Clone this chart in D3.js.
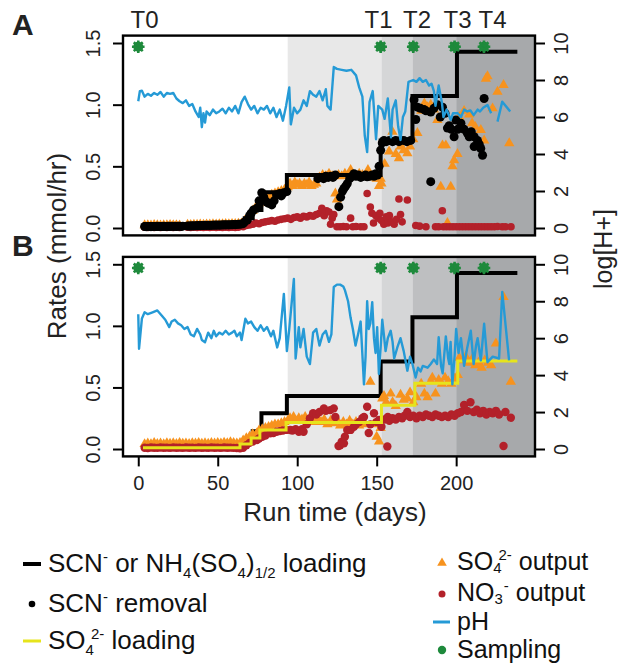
<!DOCTYPE html>
<html>
<head>
<meta charset="utf-8">
<script src="https://cdn.jsdelivr.net/npm/d3@7"></script>
<style>
  body { margin: 0; background: #fff; }
  text { font-family: "Liberation Sans", Arial, Helvetica, sans-serif; }
</style>
</head>
<body>
<div id="chart"></div>
<script>
// ---- data (day, value) ----
// loading steps, shared by both panels (mmol/hr)
var loadDays = [3, 51, 67, 72, 77.5, 93.5, 152.5, 172.5, 200.5, 238.5];
var loadVals = [0.03, 0.04, 0.08, 0.145, 0.29, 0.43, 0.71, 1.07, 1.43, 1.43];

// SO4 2- loading (panel B)
var so4LoadDays = [3, 64, 71, 76.5, 93, 153, 174, 201, 238.5];
var so4LoadVals = [0.01, 0.04, 0.09, 0.155, 0.215, 0.355, 0.535, 0.715, 0.715];

// sampling times
var samplingDays = [0, 152.5, 173, 199, 217.5];
var samplingLabels = ["T0", "T1", "T2", "T3", "T4"];
var samplingLevel = 1.47;

// treatment phases (shaded)
var phaseStart = [94, 153, 172.5, 200];
var phaseEnd = [153, 172.5, 200, 249.6];

var xTicks = [0, 50, 100, 150, 200];
var rateTicks = [0, 0.5, 1.0, 1.5];
var phTicks = [0, 2, 4, 6, 8, 10];

// Panel A
var scnRemovalA = [
  [4,.012],[5,.011],[6,.013],[7,.012],[8,.011],[9,.013],[10,.012],[11,.012],[12,.014],[13,.012],[14,.013],[15,.012],
  [16,.014],[17,.013],[18,.012],[19,.014],[20,.013],[21,.015],[22,.013],[23,.014],[24,.013],[25,.015],[26,.014],[27,.013],[28,.015],
  [31,.016],[32,.017],[33,.016],[34,.018],[35,.017],[36,.019],[37,.018],[38,.02],[39,.019],[40,.021],[41,.02],[42,.022],
  [43,.021],[44,.022],[45,.021],[46,.023],[47,.022],[48,.024],[49,.023],[50,.024],[51,.023],[52,.025],[53,.024],[54,.026],
  [55,.025],[56,.026],[57,.025],[58,.027],[59,.026],[60,.028],[61,.027],[62,.029],[63,.03],[64,.031],[65,.033],
  [66,.035],[67,.05],[68.6,.065],[70,.1],[71,.12],[72.5,.146],[74.6,.16],[76,.22],[77.7,.286],[79,.25],[80.8,.21],[82,.2],
  [84,.187],[85.5,.22],[87,.27],[89,.28],[90,.26],[91.5,.285],[93.5,.295],
  [113,.4],[115,.41],[116.6,.40],[118,.42],[119.5,.41],[121,.42],[122.5,.41],[124,.43],[126.2,.173],[127.3,.25],[128.5,.3],
  [129.4,.32],[130.5,.34],[131.5,.36],[133,.4],[134.5,.42],[135.7,.44],[137,.42],[138.5,.43],[140,.41],[141.5,.42],[143,.43],
  [144,.415],[145.5,.42],[147,.43],[148.3,.42],[149.4,.44],[150.5,.43],[151.5,.5],[152.5,.63],[153.5,.69],[154.6,.71],[156,.7],
  [158,.71],[160,.7],[162,.71],[164,.7],[165,.71],[167,.71],[169,.7],[171.4,.71],[173.5,1.04],[174.6,.88],[175.6,.98],
  [177.5,.97],[179.8,.96],[181,.95],[184,.94],[184,.376],[186,.97],[188.2,1.0],[190,.9],[191.4,.98],[193,.93],[194.5,.81],
  [195.6,.83],[197,.8],[198.7,.74],[199.8,.876],[201,.8],[203,.85],[205,.8],[207,.77],[208.2,.74],[209.5,.78],[211.3,.74],
  [211.3,.66],[213.4,.71],[214.5,.68],[215.5,.645],[216.6,.59],[217.6,1.05]
];
var so4OutA = [
  [4,.022],[6,.023],[8,.021],[10,.024],[12,.022],[14,.021],[16,.023],[18,.022],[20,.024],[22,.022],[24,.023],[26,.021],
  [31,.026],[33,.025],[35,.027],[37,.026],[39,.028],[41,.027],[43,.029],[45,.028],[47,.03],[49,.029],[51,.031],[53,.03],
  [55,.032],[57,.031],[59,.033],[61,.032],[63,.034],[65,.036],
  [67,.06],[70,.1],[72,.14],[74,.17],[76,.2],[78,.24],[80,.26],[82,.25],[84,.27],[86,.28],[88,.29],[90,.3],[92,.31],
  [94,.33],[95.5,.36],[97,.34],[98.5,.37],[100,.35],[101.5,.36],[103,.34],[104.5,.36],[106,.35],[107.5,.37],[109,.34],
  [110.5,.35],[112,.36],[114,.41],[116,.43],[118,.42],[120,.44],[122,.42],[124,.28],[125,.23],[126,.43],[128,.42],[130,.44],
  [132,.43],[133.6,.47],[135,.43],[137,.42],[139,.44],[141,.43],[143,.42],[144.5,.47],[146,.43],[148,.41],[150,.4],[151.5,.34],
  [152.5,.40],[153,.36],[155,.52],[157.8,.62],[159.9,.78],[162,.6],[164,.565],[165,.66],[167,.63],[169.3,.605],[171,.66],
  [173,.72],[175.6,.77],[178,.95],[180,1.01],[182,.98],[184,1.0],[186,.96],[188.2,.876],[190.3,.335],[191.4,.67],[193.5,.67],
  [194.5,.04],[196.6,.335],[197.7,.5],[198.7,.55],[200.8,.6],[202,.9],[205,.95],[208.2,.92],[210,.85],[212,.82],[215.5,.794],
  [217.6,.71],[218.7,1.21],[219.7,1.23],[222.9,.97],[226,1.105],[229.8,1.16],[233.4,.687]
];
var no3OutA = [
  [4,.006],[6,.005],[8,.006],[10,.005],[12,.006],[14,.005],[16,.006],[18,.005],[20,.006],[22,.005],[24,.006],[26,.005],
  [31,.006],[33,.005],[35,.006],[37,.005],[39,.006],[41,.005],[43,.006],[45,.005],[47,.006],[49,.005],[51,.006],[53,.005],
  [55,.006],[57,.005],[59,.006],[61,.005],[63,.006],
  [66,.01],[68,.02],[70,.025],[72,.03],[74,.04],[76,.035],[78,.045],[80,.05],[82,.055],[84,.06],[86,.055],[88,.065],[90,.07],
  [92,.075],[94,.08],[96,.07],[98,.085],[100,.09],[102,.08],[104,.095],[106,.09],[108,.1],[110,.095],[112,.11],[114,.12],
  [115.5,.16],[117,.1],[118.5,.14],[120,.13],[121,.03],[122,.08],[123,.11],[125,.01],[127,.01],[129,.012],[131,.01],
  [133.6,.08],[135,.01],[137,.012],[140,.01],[142,.01],[144,.28],[146,.17],[147,.12],[148,.04],[149.5,.1],[151,.08],
  [152,.12],[153,.06],[154.5,.03],[156,.09],[157,.04],[158,.1],[159.5,.05],[161,.03],[162.5,.07],[164,.235],[165,.11],
  [166,.05],[169.3,.227],[174.6,.02],[177,.015],[181,.01],[187,.01],[189,.01],[191.3,.14],[192,.01],[194,.01],[196,.01],
  [198,.01],[200,.01],[202,.01],[204,.01],[206,.01],[208,.01],[210,.01],[212,.01],[214,.01],[216,.01],[218,.01],[220,.01],
  [222,.01],[224,.01],[226,.012],[229,.01],[231,.01],[234.5,.01]
];
var phA = [
  [0,6.85],[1,7.4],[2.3,7.42],[4,7.1],[6,7.25],[8,7.15],[10,7.3],[12,7.2],[14,7.35],[16,7.1],[18,7.3],[20,7.25],[22,7.3],
  [24,7.0],[26,6.85],[28,6.75],[30,6.9],[32,6.6],[34,6.7],[36,6.3],[38,6.0],[39,6.5],[40,5.45],[41,6.2],[42,5.7],[43,6.3],
  [45,6.1],[47,6.4],[49,6.2],[51,6.3],[53,6.45],[55,6.2],[57,6.5],[59,6.3],[61,6.6],[63,6.2],[65,6.8],[67,7.1],[69,6.7],
  [71,6.4],[73,6.6],[75,6.2],[77,6.5],[79,6.4],[81,6.6],[83,6.2],[85,6.5],[87,6.0],[89,6.4],[91,5.8],[93,6.6],[95,7.6],
  [96,5.6],[98,6.5],[100,6.2],[102,6.4],[104,6.9],[106,6.6],[108,7.4],[110,7.2],[112,7.1],[114,7.4],[116,6.9],[118,7.5],
  [119,6.6],[121,6.4],[123,8.7],[125,8.6],[128,8.55],[131,8.5],[134,8.55],[137,8.25],[139,7.6],[141,7.1],[142.5,5.0],
  [144,4.1],[145.5,6.8],[147.5,7.4],[149.6,4.8],[151,6.6],[153.5,6.4],[155,5.9],[157,7.0],[159,4.9],[160,6.4],[162,6.9],
  [163.5,5.5],[165,4.76],[166.5,6.0],[168,6.3],[170,7.9],[173,8.0],[175,7.9],[177,8.1],[179,7.9],[181,8.0],[183,7.7],
  [184.5,7.8],[186,7.4],[187,6.6],[189,7.7],[191,6.8],[192,6.0],[194,6.4],[196.6,5.84],[198,6.2],[201,6.2],[203,6.0],
  [205,6.4],[207,6.3],[209,6.35],[211,6.1],[213.5,6.4],[215,6.3],[217,6.5],[219.7,6.65],[222,6.2],[224,null],
  [226,5.75],[229,6.83],[234,6.3]
];

// Panel B
var so4OutB = [
  [4,.04],[6,.045],[8,.04],[10,.05],[12,.042],[14,.046],[16,.04],[18,.048],[20,.043],[22,.047],[24,.041],[26,.05],
  [28,.044],[30,.046],[32,.042],[34,.048],[36,.045],[38,.05],[40,.044],[42,.047],[44,.043],[46,.049],[48,.045],[50,.05],
  [52,.046],[54,.052],[56,.048],[58,.055],[60,.05],[62,.045],
  [64,.05],[66,.07],[68,.087],[70,.1],[72,.12],[74.6,.127],[76,.15],[78,.16],[80,.17],[82,.18],[84,.19],[86,.2],[88,.2],
  [90,.21],[92,.22],[94,.23],[95.5,.25],[97.7,.26],[99,.23],[101,.25],[103,.24],[105,.26],[107,.23],[109,.25],[111,.22],
  [113,.25],[115,.22],[117,.24],[119,.2],[121,.23],[123,.21],[125,.24],[127,.19],[129,.22],[131,.2],[133,.23],[135,.2],
  [137,.22],[139,.19],[141,.21],[143,.2],[146,.546],[148,.2],[150,.1],[151.5,.06],[152.5,.17],[153.5,.41],[154.6,.43],
  [156,.38],[158.8,.45],[160,.38],[162,.35],[165,.44],[167,.4],[169.3,.41],[171,.46],[173,.38],[175,.42],[178,.53],
  [180,.45],[182,.42],[184,.55],[185,.58],[187,.45],[189,.56],[191,.53],[193,.58],[195,.55],[197,.53],[199,.57],[201,.6],
  [202,.74],[204,.72],[206,.75],[208,.7],[210,.73],[212,.68],[214,.7],[216,.66],[218,.72],[220,.7],[222,.68],[225,.857],
  [229.8,1.235],[234.4,.546]
];
var no3OutB = [
  [4,.01],[6,.008],[8,.012],[10,.01],[12,.009],[14,.012],[16,.01],[18,.011],[20,.009],[22,.012],[24,.01],[26,.011],
  [28,.009],[30,.012],[32,.01],[34,.011],[36,.009],[38,.012],[40,.01],[42,.011],[44,.009],[46,.012],[48,.01],[50,.011],
  [52,.009],[54,.012],[56,.01],[58,.011],[60,.009],[62,.008],
  [64,.005],[66,.01],[68,.03],[70,.05],[72,.06],[74.6,.073],[76,.085],[78,.1],[80,.11],[83,.127],[85,.13],[87,.14],
  [89,.145],[91,.15],[93,.155],[95.6,.154],[97,.15],[99,.16],[101,.14],[103,.16],[104,.14],[106,.2],[108,.25],[110,.29],
  [112,.28],[114,.3],[116.8,.33],[118,.31],[120.8,.316],[123,.33],[124,.26],[126,.025],[127,.03],[128,.06],[129.4,.046],
  [130,.1],[131.5,.155],[133.6,.155],[135.7,.18],[137,.2],[139,.22],[141,.25],[142,.26],[144,.343],[145,.13],[146,.2],
  [148.3,.29],[150,.22],[151.5,.235],[153,.18],[155,.24],[156.7,.02],[157,.26],[158,.23],[160,.25],[162,.24],[164,.26],
  [166,.25],[167.5,.27],[169.3,.30],[171,.26],[173,.27],[175,.25],[177,.27],[179,.26],[181,.28],[183,.27],[185,.26],
  [187,.28],[189,.27],[191,.26],[193,.27],[195,.26],[197,.28],[199,.27],[201,.29],[203,.3],[205,.357],[207,.31],[209,.38],
  [211,.3],[213,.32],[215,.29],[217,.31],[219,.28],[221,.3],[223,.29],[225,.31],[227,.28],[229.8,.024],[231,.3],[234.4,.254]
];
var phB = [
  [0,7.3],[0.5,5.43],[2.3,7.07],[4,7.4],[6,7.3],[9,7.4],[12,7.5],[15,7.2],[17,7.0],[19.5,6.6],[21,6.9],[23,7.0],[25,6.8],
  [27,6.7],[29,6.5],[31,6.6],[33,6.2],[35,6.1],[37,6.5],[39,6.2],[40,5.9],[42,5.78],[44,6.3],[46,6.0],[47.5,6.4],[49,6.1],
  [51,6.3],[53,6.2],[55,6.4],[57,6.2],[59,6.3],[60.5,6.4],[62,6.1],[64,6.3],[65,5.9],[67.4,7.05],[69,6.8],[71,6.9],
  [73,6.6],[75,6.4],[77,6.7],[79,6.4],[81,6.6],[83.5,6.1],[85,6.4],[87.4,5.5],[89,6.0],[91.6,8.4],[93.5,5.3],[95,6.5],
  [97.9,9.2],[99,4.9],[101,6.6],[102,5.5],[104,6.5],[106,5.0],[108,4.6],[110,6.3],[112,6.5],[114,5.6],[116,6.2],[118,6.4],
  [120,5.8],[121.5,6.2],[123,8.77],[125,8.9],[127,8.9],[129,8.8],[130,8.6],[132,8.0],[133.6,7.1],[135,6.5],[136.7,5.6],
  [138.5,6.3],[139.9,6.9],[142,3.5],[143,5.0],[144,8.0],[145,6.5],[146,6.8],[147.2,7.95],[148.3,6.0],[149.3,5.2],
  [150.3,6.6],[151.4,4.06],[152.5,5.5],[153.5,7.0],[154.5,6.2],[155.6,5.3],[157,6.0],[158.8,6.4],[160,5.8],[161,4.9],
  [163,5.5],[165,6.0],[167,5.3],[169.3,4.24],[171,5.0],[172.5,4.6],[174.5,3.87],[176,4.4],[177.6,4.2],[179,4.5],[182,4.4],
  [184,4.6],[186,4.85],[188,4.6],[189,6.05],[190.5,4.5],[191.5,4.1],[193.5,6.1],[195,4.9],[195.7,4.6],[196.5,5.8],
  [197.6,3.5],[199,5.0],[200,6.5],[201.5,5.2],[203,6.0],[205,4.5],[207,5.5],[209.2,6.4],[211,4.6],[212.5,5.6],[213.5,6.0],
  [215.5,4.8],[217.6,6.78],[219.7,4.7],[223,5.0],[227,4.9],[229,8.5],[233.3,4.8]
];

// ---- colours ----
var cOrange = "#f7931e", cRed = "#b3212a", cBlue = "#259ad6", cGreen = "#1e8a3c",
    cYellow = "#e6e41c", phaseFill = ["#e8e8e8", "#d5d6d7", "#bebfc1", "#a7a9ab"];

var W = 618, H = 664;
var svg = d3.select("#chart").append("svg")
    .attr("width", W).attr("height", H);

var left = 123, right = 535;
var x = d3.scaleLinear().domain([-9.6, 249.6]).range([left, right]);

function stepPairs(days, vals) {
  return days.map(function(d, i) { return [d, vals[i]]; });
}

function drawPanel(id, top, bottom, layers, showX) {
  var y = d3.scaleLinear().domain([-0.06, 1.56]).range([bottom, top]);
  var yR = d3.scaleLinear().domain([-0.4, 10.4]).range([bottom, top]);
  var g = svg.append("g");

  g.append("clipPath").attr("id", "clip" + id)
    .append("rect").attr("x", left).attr("y", top)
    .attr("width", right - left).attr("height", bottom - top);
  var p = g.append("g").attr("clip-path", "url(#clip" + id + ")");

  // shaded phases
  p.selectAll("rect.phase").data(phaseStart).enter().append("rect")
    .attr("x", function(d) { return x(d); })
    .attr("width", function(d, i) { return x(phaseEnd[i]) - x(d); })
    .attr("y", top).attr("height", bottom - top)
    .attr("fill", function(d, i) { return phaseFill[i]; });

  var step = d3.line().curve(d3.curveStepAfter)
    .x(function(d) { return x(d[0]); })
    .y(function(d) { return y(d[1]); });

  layers.forEach(function(L) {
    if (L.type === "step") {
      p.append("path").datum(L.data).attr("d", step)
        .attr("fill", "none").attr("stroke", L.color).attr("stroke-width", L.width);
    } else if (L.type === "tri") {
      p.selectAll(null).data(L.data).enter().append("path")
        .attr("d", d3.symbol().type(d3.symbolTriangle).size(46))
        .attr("transform", function(d) { return "translate(" + x(d[0]) + "," + y(d[1]) + ")"; })
        .attr("fill", L.color);
    } else if (L.type === "dot") {
      p.selectAll(null).data(L.data).enter().append("circle")
        .attr("cx", function(d) { return x(d[0]); })
        .attr("cy", function(d) { return y(d[1]); })
        .attr("r", L.r).attr("fill", L.color);
    } else if (L.type === "ph") {
      var ln = d3.line().defined(function(d) { return d[1] != null; })
        .x(function(d) { return x(d[0]); })
        .y(function(d) { return yR(d[1]); });
      p.append("path").datum(L.data).attr("d", ln)
        .attr("fill", "none").attr("stroke", cBlue).attr("stroke-width", 2.4)
        .attr("stroke-linejoin", "round");
    }
  });

  // sampling markers
  var s = p.selectAll("g.samp").data(samplingDays).enter().append("g")
    .attr("transform", function(d) { return "translate(" + x(d) + "," + y(samplingLevel) + ")"; });
  s.append("circle").attr("r", 5).attr("fill", cGreen);
  d3.range(8).forEach(function(k) {
    var a = k * Math.PI / 4;
    s.append("line").attr("x1", 0).attr("y1", 0)
      .attr("x2", 6.3 * Math.cos(a)).attr("y2", 6.3 * Math.sin(a))
      .attr("stroke", cGreen).attr("stroke-width", 2.6);
  });

  // frame
  g.append("rect").attr("x", left).attr("y", top)
    .attr("width", right - left).attr("height", bottom - top)
    .attr("fill", "none").attr("stroke", "#000").attr("stroke-width", 2.4);

  // left axis
  var ax = g.append("g").attr("transform", "translate(" + left + ",0)")
    .call(d3.axisLeft(y).tickValues(rateTicks).tickSize(10).tickFormat(d3.format(".1f")));
  ax.select(".domain").remove();
  ax.selectAll(".tick line").attr("stroke-width", 2);
  ax.selectAll(".tick text").attr("x", null).attr("dy", null)
    .attr("transform", "translate(-23,0) rotate(-90)")
    .attr("text-anchor", "middle").attr("font-size", 20).attr("fill", "#222");

  // right axis
  var ar = g.append("g").attr("transform", "translate(" + right + ",0)")
    .call(d3.axisRight(yR).tickValues(phTicks).tickSize(10));
  ar.select(".domain").remove();
  ar.selectAll(".tick line").attr("stroke-width", 2);
  ar.selectAll(".tick text").attr("x", null).attr("dy", null)
    .attr("transform", "translate(33,0) rotate(-90)")
    .attr("text-anchor", "middle").attr("font-size", 20).attr("fill", "#222");

  if (showX) {
    var axb = g.append("g").attr("transform", "translate(0," + bottom + ")")
      .call(d3.axisBottom(x).tickValues(xTicks).tickSize(10));
    axb.select(".domain").remove();
    axb.selectAll(".tick line").attr("stroke-width", 2);
    axb.selectAll(".tick text").attr("y", 34).attr("dy", null)
      .attr("font-size", 20).attr("fill", "#222");
  }

  g.append("text").attr("x", 12).attr("y", top - 1)
    .attr("font-size", 30).attr("font-weight", "bold").attr("fill", "#222").text(id);
  return y;
}

var loading = stepPairs(loadDays, loadVals);
var so4Loading = stepPairs(so4LoadDays, so4LoadVals);

drawPanel("A", 35.6, 235.4, [
  { type: "tri", data: so4OutA, color: cOrange },
  { type: "dot", data: no3OutA, color: cRed, r: 3.8 },
  { type: "dot", data: scnRemovalA, color: "#000", r: 4.5 },
  { type: "step", data: loading, color: "#000", width: 4 },
  { type: "ph", data: phA }
], false);

drawPanel("B", 256.9, 456.4, [
  { type: "step", data: loading, color: "#000", width: 4 },
  { type: "tri", data: so4OutB, color: cOrange },
  { type: "dot", data: no3OutB, color: cRed, r: 4.2 },
  { type: "step", data: so4Loading, color: cYellow, width: 3 },
  { type: "ph", data: phB }
], true);

// sampling labels above panel A
var labelX = [144.5, 378.5, 417, 457.5, 492.5];
svg.selectAll("text.tlab").data(samplingLabels).enter().append("text")
  .attr("x", function(d, i) { return labelX[i]; }).attr("y", 27.5)
  .attr("text-anchor", "middle").attr("font-size", 24).attr("fill", "#222")
  .text(function(d) { return d; });

// axis titles
svg.append("text").attr("transform", "translate(66,246) rotate(-90)")
  .attr("text-anchor", "middle").attr("font-size", 26).attr("fill", "#222")
  .text("Rates (mmol/hr)");
svg.append("text").attr("transform", "translate(612,249) rotate(-90)")
  .attr("text-anchor", "middle").attr("font-size", 25).attr("fill", "#222")
  .text("log[H+]");
svg.append("text").attr("x", 335).attr("y", 521)
  .attr("text-anchor", "middle").attr("font-size", 26).attr("fill", "#222")
  .text("Run time (days)");

// ---- legend ----
function rich(xp, yp, parts, fs, subShift, supShift) {
  var t = svg.append("text").attr("x", xp).attr("y", yp)
    .attr("font-size", fs).attr("fill", "#111");
  var shift = 0, up = supShift || -10;
  parts.forEach(function(pt) {
    var target = pt[1] === "sup" ? up : pt[1] === "sub" ? subShift : 0;
    var s = t.append("tspan").text(pt[0]).attr("dy", target - shift);
    shift = target;
    if (pt[1]) s.attr("font-size", 15);
    if (pt[2]) s.attr("dx", pt[2]);
  });
}

svg.append("line").attr("x1", 23).attr("x2", 41).attr("y1", 564).attr("y2", 564)
  .attr("stroke", "#000").attr("stroke-width", 4);
rich(48, 571.5, [["SCN"], ["-", "sup"], [" or NH"], ["4", "sub"], ["(SO"], ["4", "sub"], [")"], ["1/2", "sub"], [" loading"]], 26, 6);

svg.append("circle").attr("cx", 32).attr("cy", 604).attr("r", 3.3).attr("fill", "#000");
rich(48, 611.5, [["SCN"], ["-", "sup"], [" removal"]], 26, 6);

svg.append("line").attr("x1", 23).attr("x2", 41).attr("y1", 641).attr("y2", 641)
  .attr("stroke", cYellow).attr("stroke-width", 3);
rich(48, 649, [["SO"], ["4", "sub"], ["2-", "sup", -3], [" loading"]], 26, 6);

svg.append("path").attr("d", d3.symbol().type(d3.symbolTriangle).size(40))
  .attr("transform", "translate(442,563)").attr("fill", cOrange);
rich(457, 569.5, [["SO"], ["4", "sub"], ["2-", "sup", -3], [" output"]], 25, 3);

svg.append("circle").attr("cx", 442).attr("cy", 594).attr("r", 3.5).attr("fill", cRed);
rich(457, 601, [["NO"], ["3", "sub"], ["-", "sup", 1], [" output"]], 25, 3);

svg.append("line").attr("x1", 433).attr("x2", 450).attr("y1", 622).attr("y2", 622)
  .attr("stroke", cBlue).attr("stroke-width", 3);
rich(457, 630, [["pH"]], 25, 3);

svg.append("circle").attr("cx", 442).attr("cy", 650).attr("r", 4.2).attr("fill", cGreen);
rich(457, 658, [["Sampling"]], 25, 3);
</script>
</body>
</html>
